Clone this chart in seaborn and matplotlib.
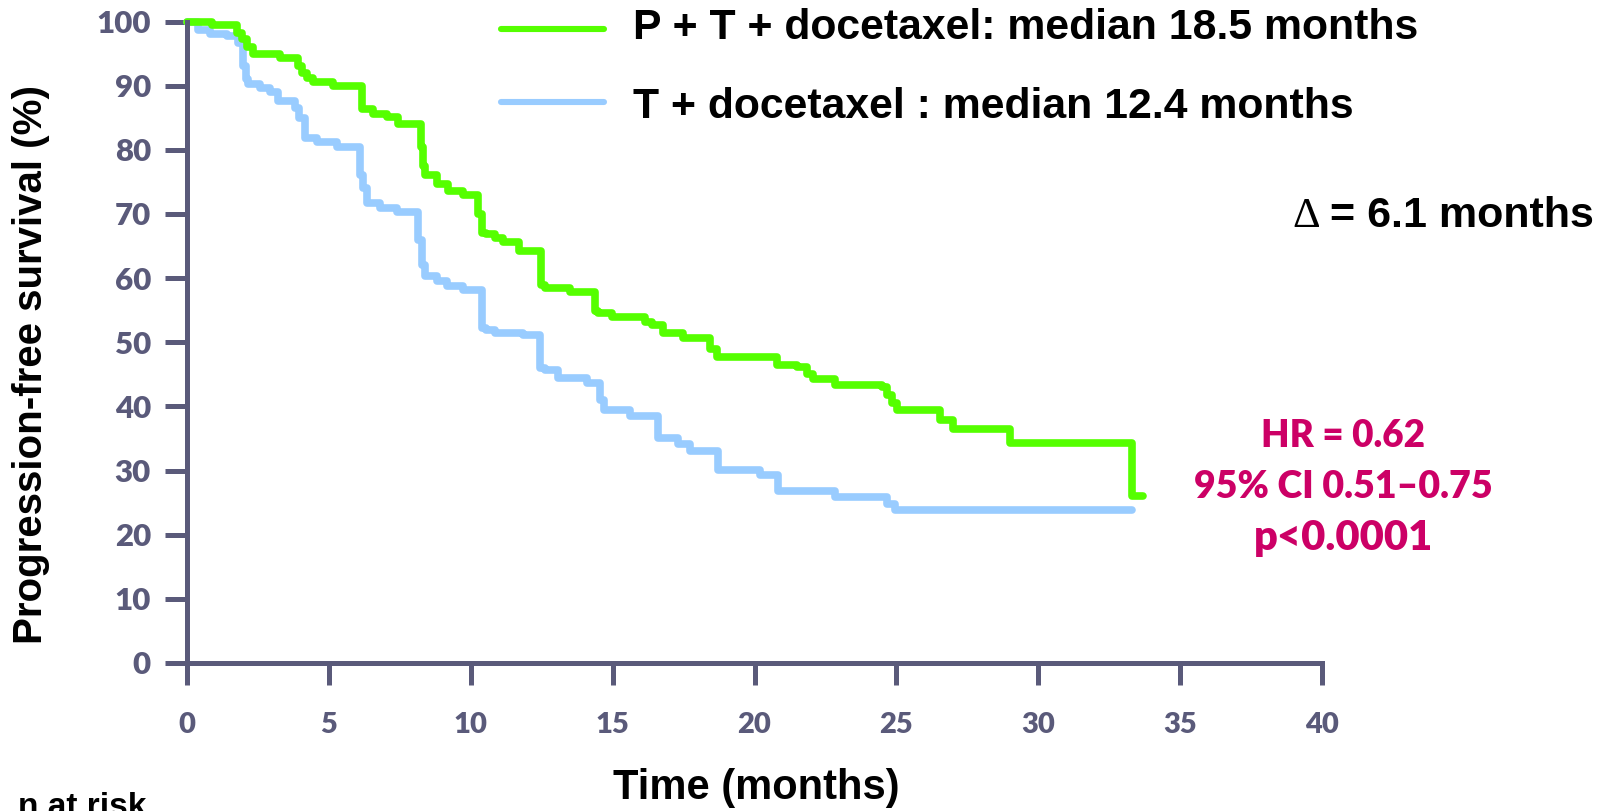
import matplotlib
matplotlib.use("Agg")
import matplotlib.pyplot as plt
import seaborn as sns
import pandas as pd
from matplotlib.lines import Line2D

# --------------------
# Data
# --------------------

arms = ['P + T + docetaxel', 'T + docetaxel']

ptd_time = [0, 0.87, 1.75, 1.95, 2.10, 2.34, 3.28, 3.92, 4.05, 4.22, 4.45, 5.16,
            6.16, 6.57, 7.04, 7.45, 8.23, 8.30, 8.39, 8.80, 9.21, 9.74, 10.27,
            10.39, 10.55, 10.85, 11.15, 11.70, 12.46, 12.62, 13.50, 14.38, 14.50,
            14.97, 16.14, 16.38, 16.79, 17.49, 18.43, 18.67, 20.78, 21.49, 21.84,
            22.07, 22.84, 24.48, 24.66, 24.83, 25.01, 26.54, 27.00, 29.00, 33.29,
            33.70]
ptd_surv = [100, 99.4, 98.2, 97.2, 96.1, 95.0, 94.3, 93.0, 92.0, 91.2, 90.5, 90.0,
            86.3, 85.6, 85.1, 84.0, 80.5, 77.5, 76.1, 74.7, 73.5, 73.0, 70.0,
            67.1, 66.8, 66.3, 65.6, 64.2, 59.0, 58.5, 57.9, 54.8, 54.5,
            54.0, 53.2, 52.7, 51.4, 50.6, 49.0, 47.7, 46.5, 46.2, 45.1,
            44.3, 43.4, 43.0, 41.7, 40.6, 39.5, 37.9, 36.5, 34.3, 26.1,
            26.1]

td_time = [0, 0.40, 0.81, 1.40, 1.80, 1.99, 2.08, 2.16, 2.57, 2.93, 3.22, 3.81,
           3.95, 4.16, 4.57, 5.27, 6.10, 6.20, 6.33, 6.80, 7.39, 8.15, 8.28, 8.39,
           8.80, 9.15, 9.74, 10.39, 10.55, 10.85, 11.85, 12.44, 12.60, 13.09,
           14.09, 14.56, 14.70, 15.61, 16.61, 17.31, 17.73, 18.72, 20.19, 20.84,
           22.84, 24.66, 24.95, 33.29]
td_surv = [100, 98.6, 98.1, 97.8, 96.7, 93.0, 91.0, 90.3, 89.7, 89.0, 87.6, 86.5,
           85.0, 81.9, 81.2, 80.5, 76.0, 74.0, 71.7, 70.9, 70.3, 66.0, 62.0, 60.3,
           59.5, 58.7, 58.2, 52.2, 51.9, 51.4, 51.1, 46.0, 45.6, 44.4,
           43.6, 41.0, 39.5, 38.5, 35.0, 34.2, 33.0, 30.1, 29.3, 26.8,
           25.9, 24.85, 23.8, 23.8]

legend_labels = ['P + T + docetaxel: median 18.5 months',
                 'T + docetaxel : median 12.4 months']
x_ticks = [0, 5, 10, 15, 20, 25, 30, 35, 40]
y_ticks = [0, 10, 20, 30, 40, 50, 60, 70, 80, 90, 100]

colors = {'P + T + docetaxel': '#55FF00', 'T + docetaxel': '#99CCFF'}
axis_col = '#5A5A7A'
pink = '#CC0066'
LW = 4.4

df = pd.concat([
    pd.DataFrame({'time': ptd_time, 'surv': ptd_surv, 'arm': arms[0]}),
    pd.DataFrame({'time': td_time, 'surv': td_surv, 'arm': arms[1]}),
])

# --------------------
# Plot
# --------------------

sns.set_style('ticks')
plt.rcParams['font.family'] = ['Liberation Sans', 'DejaVu Sans']
plt.rcParams['text.color'] = 'black'
plt.rcParams['axes.labelcolor'] = 'black'

fig = plt.figure(figsize=(16.04, 8.11), dpi=100)
ax = fig.add_axes([187 / 1604, 148 / 811, 1135 / 1604, 641.5 / 811])

sns.lineplot(data=df, x='time', y='surv', hue='arm', hue_order=arms[::-1],
             palette=colors, estimator=None, sort=False, drawstyle='steps-post',
             linewidth=5.5, legend=False, ax=ax)
for ln in ax.lines:
    ln.set_clip_on(False)

ax.set_xlim(0, 40)
ax.set_ylim(0, 100)
ax.set_xticks(x_ticks)
ax.set_yticks(y_ticks)
sns.despine(ax=ax)
for s in ['left', 'bottom']:
    ax.spines[s].set_color(axis_col)
    ax.spines[s].set_linewidth(3.6)
ax.tick_params(axis='both', direction='out', length=16, width=3.6, color=axis_col,
               labelcolor=axis_col)
ax.tick_params(axis='y', pad=10)
ax.tick_params(axis='x', pad=19)
for lbl in ax.get_yticklabels():
    lbl.set_fontfamily('Lato')
    lbl.set_fontweight('heavy')
    lbl.set_fontsize(22.5)
for lbl in ax.get_xticklabels():
    lbl.set_fontfamily('Lato')
    lbl.set_fontweight('heavy')
    lbl.set_fontsize(21)

ax.set_ylabel('Progression-free survival (%)', fontsize=29, fontweight='bold')
ax.set_xlabel('Time (months)', fontsize=30, fontweight='bold')
ax.yaxis.set_label_coords(31 / 1604, (811 - 365) / 811, transform=fig.transFigure)
ax.xaxis.set_label_coords(756 / 1604, (811 - 788) / 811, transform=fig.transFigure)
ax.xaxis.label.set_va('center')
ax.yaxis.label.set_va('center')

# legend drawn by hand
for i, (arm, lab) in enumerate(zip(arms, legend_labels)):
    yl = [28.6, 102.3][i]
    fig.add_artist(Line2D([501 / 1604, 604 / 1604], [1 - yl / 811] * 2,
                          color=colors[arm], linewidth=LW,
                          transform=fig.transFigure))
    fig.text(633 / 1604, 1 - [39.3, 118.3][i] / 811, lab, fontsize=30.8,
             fontweight='bold', va='baseline', ha='left')

fig.text(1292 / 1604, 1 - 227 / 811, '\u0394', fontsize=31,
         family='Liberation Serif', va='baseline', ha='left')
fig.text(1330 / 1604, 1 - 227 / 811, '= 6.1 months', fontsize=31,
         fontweight='bold', va='baseline', ha='left')

stats = ['HR = 0.62', '95% CI 0.51\u20130.75', 'p<0.0001']
for txt, yb, fs in zip(stats, [446.7, 498.3, 550], [26.5, 27, 30]):
    fig.text(1343 / 1604, 1 - yb / 811, txt, fontsize=fs, fontweight='heavy',
             family='Lato', color=pink, ha='center', va='baseline')

fig.text(18 / 1604, -4.6 / 811, 'n at risk', fontsize=24, fontweight='bold',
         va='baseline', ha='left')

fig.savefig('out.png', dpi=100)
